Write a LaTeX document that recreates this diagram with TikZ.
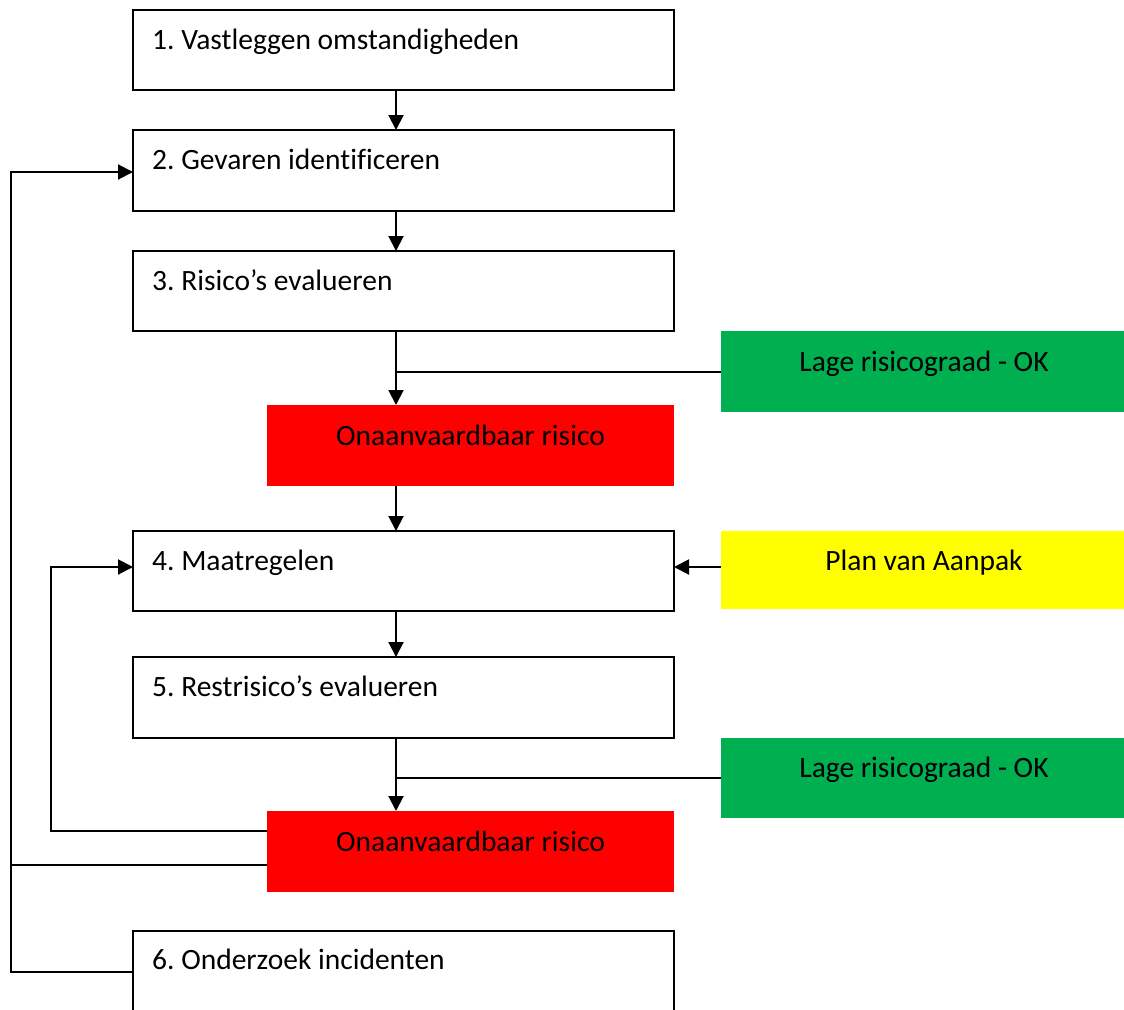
\documentclass[tikz,border=0pt]{standalone}
\usepackage{fontspec}
\setmainfont{Carlito}[Ligatures=NoCommon]
\usetikzlibrary{arrows.meta,calc}
\definecolor{okgreen}{HTML}{00B050}
\definecolor{badred}{HTML}{FF0000}
\definecolor{planyellow}{HTML}{FFFF00}
\frenchspacing
\begin{document}
\begin{tikzpicture}[x=1pt,y=-1pt,
  wbox/.style={draw=black,line width=2pt,fill=white,inner sep=0pt,outer sep=0pt},
  cbox/.style={draw=none,inner sep=0pt,outer sep=0pt},
  ltxt/.style={anchor=base west,inner sep=0pt,font=\fontsize{29.5}{35}\selectfont},
  ctxt/.style={anchor=base,inner sep=0pt,font=\fontsize{29.5}{35}\selectfont},
  conn/.style={line width=2pt},
  arr/.style={line width=2pt,-{Triangle[length=15pt,width=15pt]}}]
\useasboundingbox (0,0) rectangle (1124,1009);
\begin{scope}
\clip (0,0) rectangle (1124,1009);
% boxes
\path[wbox] (133,10) rectangle (674,90);
\path[wbox] (133,130) rectangle (674,211);
\path[wbox] (133,251) rectangle (674,331);
\path[wbox] (133,531) rectangle (674,611);
\path[wbox] (133,657) rectangle (674,738);
\path[wbox] (133,931) rectangle (674,1030);
\path[fill=okgreen] (721,331) rectangle (1124,412);
\path[fill=badred] (267,405) rectangle (674,486);
\path[fill=planyellow] (721,531) rectangle (1124,609);
\path[fill=okgreen] (721,738) rectangle (1124,818);
\path[fill=badred] (267,811) rectangle (674,892);
\end{scope}
% named anchors for the boxes
\node[cbox,minimum width=541pt,minimum height=80pt] (b1) at (403.5,50) {};
\node[cbox,minimum width=541pt,minimum height=81pt] (b2) at (403.5,170.5) {};
\node[cbox,minimum width=541pt,minimum height=80pt] (b3) at (403.5,291) {};
\node[cbox,minimum width=541pt,minimum height=80pt] (b4) at (403.5,571) {};
\node[cbox,minimum width=541pt,minimum height=81pt] (b5) at (403.5,697.5) {};
\node[cbox,minimum width=541pt,minimum height=78pt] (b6) at (403.5,970) {};
\node[cbox,minimum width=403pt,minimum height=81pt] (g1) at (922.5,371.5) {};
\node[cbox,minimum width=407pt,minimum height=81pt] (r1) at (470.5,445.5) {};
\node[cbox,minimum width=403pt,minimum height=78pt] (y1) at (922.5,570) {};
\node[cbox,minimum width=403pt,minimum height=80pt] (g2) at (922.5,778) {};
\node[cbox,minimum width=407pt,minimum height=81pt] (r2) at (470.5,851.5) {};
% texts
\node[ltxt] (t1) at (152,49) {1. Vastleggen omstandigheden};
\node[ltxt] (t2) at (152,169) {2. Gevaren identificeren};
\node[ltxt] (t3) at (152,290) {3. Risico’s evalueren};
\node[ltxt] (t4) at (152,570) {4. Maatregelen};
\node[ltxt] (t5) at (152,696) {5. Restrisico’s evalueren};
\node[ltxt] (t6) at (152,969) {6. Onderzoek incidenten};
\node[ctxt] (tg1) at (924,371) {Lage risicograad - OK};
\node[ctxt] (tr1) at (470.5,445) {Onaanvaardbaar risico};
\node[ctxt] (ty1) at (924,570) {Plan van Aanpak};
\node[ctxt] (tg2) at (924,777) {Lage risicograad - OK};
\node[ctxt] (tr2) at (470.5,851) {Onaanvaardbaar risico};
% connectors
\coordinate (ax) at (396,0);
\draw[arr] (b1.south -| ax) -- (b2.north -| ax);
\draw[arr] (b2.south -| ax) -- (b3.north -| ax);
\draw[arr] (b3.south -| ax) -- (r1.north -| ax);
\draw[conn] (g1.west |- 0,372) -- (ax |- 0,372);
\draw[arr] (r1.south -| ax) -- (b4.north -| ax);
\draw[arr] (y1.west |- 0,567) -- (b4.east |- 0,567);
\draw[arr] (b4.south -| ax) -- (b5.north -| ax);
\draw[arr] (b5.south -| ax) -- (r2.north -| ax);
\draw[conn] (g2.west |- 0,778) -- (ax |- 0,778);
% feedback loops
\draw[arr] (r2.west |- 0,831) -- (51,831) -- (51,567) -- (b4.west |- 0,567);
\draw[arr] (r2.west |- 0,865) -- (11,865) -- (11,172) -- (b2.west |- 0,172);
\draw[conn] (b6.west |- 0,972) -- (11,972) -- (11,865);
\end{tikzpicture}
\end{document}
